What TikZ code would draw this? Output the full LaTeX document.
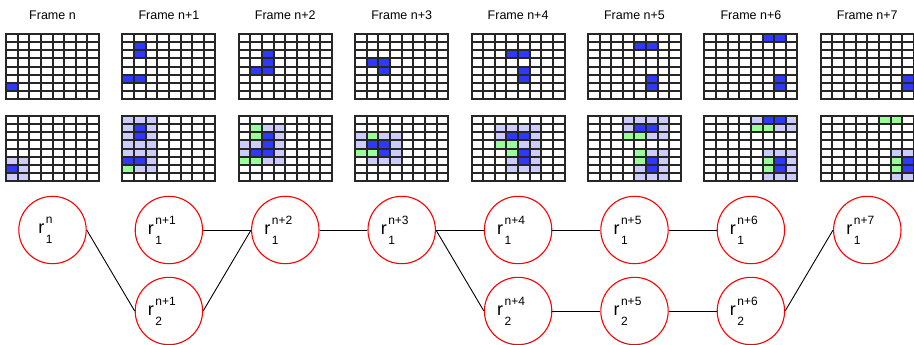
\documentclass[tikz,border=0pt]{standalone}
\usepackage{fontspec}
\setmainfont{Liberation Sans}
\definecolor{cellblue}{HTML}{2E38FF}
\definecolor{celllight}{HTML}{CCCCFF}
\definecolor{cellgreen}{HTML}{99FF99}
\definecolor{ringred}{HTML}{FF0000}

% cell size of the 8x8 frame grids
\newcommand{\cw}{11.625}
\newcommand{\ch}{8.125}

% \gridlines{x}{y}: 8x8 grid with top-left corner at (x,y); lines snapped to whole points
\newcommand{\gridlines}[2]{%
  \pgfmathsetmacro\gl{round(#1)}%
  \pgfmathsetmacro\gr{round(#1+8*\cw)}%
  \pgfmathsetmacro\gt{round(#2)}%
  \pgfmathsetmacro\gb{round(#2+8*\ch)}%
  \foreach \i in {0,...,8}{
    \pgfmathsetmacro\gx{round(#1+\i*\cw)}
    \pgfmathsetmacro\gy{round(#2+\i*\ch)}
    \draw[gridline] (\gx,\gt) -- (\gx,\gb);
    \draw[gridline] (\gl,\gy) -- (\gr,\gy);
  }}

% \cellfill{colour}{x}{y}{row/col list}
\newcommand{\cellfill}[4]{%
  \foreach \rr/\cc in {#4}{
    \pgfmathsetmacro\ax{round(#2+\cc*\cw)}
    \pgfmathsetmacro\bx{round(#2+(\cc+1)*\cw)}
    \pgfmathsetmacro\ay{round(#3+\rr*\ch)}
    \pgfmathsetmacro\by{round(#3+(\rr+1)*\ch)}
    \fill[#1] (\ax,\ay) rectangle (\bx,\by);
  }}

% region label: big r with stacked superscript and subscript
\newcommand{\rlab}[2]{\kern-14pt{\fontsize{18}{18}\selectfont r}\kern1.5pt%
  {\fontsize{12}{12}\selectfont\rlap{\raisebox{-10pt}{#2}}\raisebox{10pt}{#1}}}

\tikzset{
  gridline/.style={line width=2pt, black!85, line cap=rect},
  title/.style={font=\fontsize{12.5}{14}\selectfont, inner sep=0pt},
  region/.style={circle, draw=ringred, line width=1.1pt, minimum size=67.4pt, inner sep=0pt},
  link/.style={draw=black, line width=0.9pt}
}

\begin{document}
\begin{tikzpicture}[x=1pt,y=-1pt]
\useasboundingbox (0,0) rectangle (914,345);

% frame titles
\foreach \k/\t in {0/Frame n,1/Frame n+1,2/Frame n+2,3/Frame n+3,4/Frame n+4,5/Frame n+5,6/Frame n+6,7/Frame n+7}{
  \node[title] (title\k) at (6+116.4*\k+46.5,15) {\t};
}

% ---- top row: detected pixels ----
\cellfill{cellblue}{6}{34}{6/0}
\cellfill{cellblue}{122.4}{34}{1/1,2/1,5/0,5/1}
\cellfill{cellblue}{238.8}{34}{2/2,3/2,4/1,4/2}
\cellfill{cellblue}{355.2}{34}{3/1,3/2,4/2}
\cellfill{cellblue}{471.6}{34}{2/3,2/4,4/4,5/4}
\cellfill{cellblue}{588}{34}{1/4,1/5,5/5,6/5}
\cellfill{cellblue}{704.4}{34}{0/5,0/6,5/6,6/6}
\cellfill{cellblue}{820.8}{34}{5/7,6/7}

% ---- bottom row: neighbourhoods ----
\cellfill{celllight}{6}{116}{5/0,5/1,6/1,7/0,7/1}
\cellfill{cellblue}{6}{116}{6/0}

\cellfill{celllight}{122.4}{116}{0/0,0/1,0/2,1/0,1/2,2/0,2/2,3/0,3/1,3/2,4/0,4/1,4/2,5/2,6/1,6/2}
\cellfill{cellblue}{122.4}{116}{1/1,2/1,5/0,5/1}
\cellfill{cellgreen}{122.4}{116}{6/0}

\cellfill{celllight}{238.8}{116}{1/2,1/3,2/3,3/0,3/1,3/3,4/0,4/3,5/2,5/3}
\cellfill{cellblue}{238.8}{116}{2/2,3/2,4/1,4/2}
\cellfill{cellgreen}{238.8}{116}{1/1,2/1,5/0,5/1}

\cellfill{celllight}{355.2}{116}{2/0,2/2,2/3,3/0,3/3,4/3,5/1,5/2,5/3}
\cellfill{cellblue}{355.2}{116}{3/1,3/2,4/2}
\cellfill{cellgreen}{355.2}{116}{2/1,4/0,4/1}

\cellfill{celllight}{471.6}{116}{1/2,1/3,1/4,1/5,2/2,2/5,3/4,3/5,4/5,5/3,5/5,6/3,6/4,6/5}
\cellfill{cellblue}{471.6}{116}{2/3,2/4,4/4,5/4}
\cellfill{cellgreen}{471.6}{116}{3/2,3/3,4/3}

\cellfill{celllight}{588}{116}{0/3,0/4,0/5,0/6,1/3,1/6,2/5,2/6,4/5,4/6,5/6,6/4,6/6,7/4,7/5,7/6}
\cellfill{cellblue}{588}{116}{1/4,1/5,5/5,6/5}
\cellfill{cellgreen}{588}{116}{2/3,2/4,4/4,5/4}

\cellfill{celllight}{704.4}{116}{0/4,0/7,1/6,1/7,4/5,4/6,4/7,5/7,6/7,7/5,7/6,7/7}
\cellfill{cellblue}{704.4}{116}{0/5,0/6,5/6,6/6}
\cellfill{cellgreen}{704.4}{116}{1/4,1/5,5/5,6/5}

\cellfill{celllight}{820.8}{116}{4/6,4/7,7/6,7/7}
\cellfill{cellblue}{820.8}{116}{5/7,6/7}
\cellfill{cellgreen}{820.8}{116}{0/5,0/6,5/6,6/6}

% grid lines on top of the fills
\foreach \k in {0,...,7}{
  \gridlines{6+116.4*\k}{34}
  \gridlines{6+116.4*\k}{116}
}

% ---- region graph ----
\node[region] (a0) at (52.5,230)  {\rlab{n}{1}};
\node[region] (a1) at (168.9,230) {\rlab{n+1}{1}};
\node[region] (b1) at (168.9,311) {\rlab{n+1}{2}};
\node[region] (a2) at (285.3,230) {\rlab{n+2}{1}};
\node[region] (a3) at (401.7,230) {\rlab{n+3}{1}};
\node[region] (a4) at (518.1,230) {\rlab{n+4}{1}};
\node[region] (b4) at (518.1,311) {\rlab{n+4}{2}};
\node[region] (a5) at (634.5,230) {\rlab{n+5}{1}};
\node[region] (b5) at (634.5,311) {\rlab{n+5}{2}};
\node[region] (a6) at (750.9,230) {\rlab{n+6}{1}};
\node[region] (b6) at (750.9,311) {\rlab{n+6}{2}};
\node[region] (a7) at (867.3,230) {\rlab{n+7}{1}};

\draw[link] (a0.east) -- (b1.west);
\draw[link] (a1.east) -- (a2.west);
\draw[link] (b1.east) -- (a2.west);
\draw[link] (a2.east) -- (a3.west);
\draw[link] (a3.east) -- (a4.west);
\draw[link] (a3.east) -- (b4.west);
\draw[link] (a4.east) -- (a5.west);
\draw[link] (b4.east) -- (b5.west);
\draw[link] (a5.east) -- (a6.west);
\draw[link] (b5.east) -- (b6.west);
\draw[link] (b6.east) -- (a7.west);
\end{tikzpicture}
\end{document}
